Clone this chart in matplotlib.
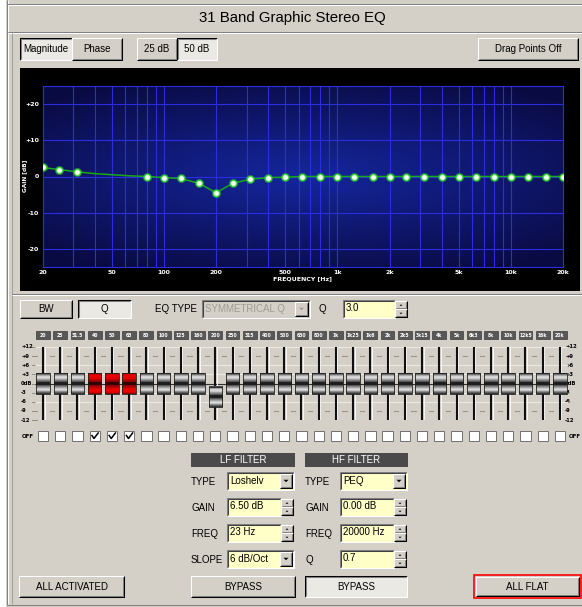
import numpy as np
import matplotlib.pyplot as plt
from matplotlib.patches import Rectangle, Polygon
from matplotlib.transforms import blended_transform_factory

plt.rcParams['font.family'] = ['Liberation Sans', 'DejaVu Sans']

W, H = 582, 607
FACE = '#d4d0c8'
YELLOW = '#ffffc8'

# ---- data ----
bands = [20, 25, 31.5, 40, 50, 63, 80, 100, 125, 160, 200, 250, 315, 400, 500,
         630, 800, 1000, 1250, 1600, 2000, 2500, 3150, 4000, 5000, 6300, 8000,
         10000, 12500, 16000, 20000]
band_labels = ['20', '25', '31.5', '40', '50', '63', '80', '100', '125', '160', '200',
               '250', '315', '400', '500', '630', '800', '1k', '1k25', '1k6', '2k',
               '2k5', '3k15', '4k', '5k', '6k3', '8k', '10k', '12k5', '16k', '20k']
# response curve (dB) at each band
curve_gain = [2.5, 1.9, 1.3, 0.8, 0.5, 0.2, 0.0, -0.3, -0.55, -1.9, -4.5, -1.9, -0.75,
              -0.3, -0.2, 0.0, 0.0, 0.0, 0.0, 0.0, 0.0, 0.0, 0.0, 0.0, 0.0, 0.0, 0.0,
              0.0, 0.0, 0.0, 0.0]
# fader positions (dB)
fader_gain = [0, 0, 0, 0, 0, 0, 0, 0, 0, 0, -4.5, 0, 0, 0, 0, 0, 0, 0, 0, 0, 0,
              0, 0, 0, 0, 0, 0, 0, 0, 0, 0]
band_off = [False, False, False, True, True, True, False, False, False, False, False,
            False, False, False, False, False, False, False, False, False, False,
            False, False, False, False, False, False, False, False, False, False]

x_ticks = [20, 50, 100, 200, 500, 1000, 2000, 5000, 10000, 20000]
x_tick_labels = ['20', '50', '100', '200', '500', '1k', '2k', '5k', '10k', '20k']
x_grid = [30, 40, 60, 70, 80, 90, 300, 400, 600, 700, 800, 900,
          3000, 4000, 6000, 7000, 8000, 9000]
y_ticks = [20, 10, 0, -10, -20]
y_tick_labels = ['+20', '+10', '0', '-10', '-20']
fader_ticks = [12, 9, 6, 3, 0, -3, -6, -9, -12]
fader_tick_labels = ['+12', '+9', '+6', '+3', '0dB', '-3', '-6', '-9', '-12']

fig = plt.figure(figsize=(W / 100, H / 100), dpi=100)
fig.patch.set_facecolor(FACE)
ax = fig.add_axes([0, 0, 1, 1])
ax.set_xlim(0, W)
ax.set_ylim(H, 0)
ax.axis('off')

LW = 0.75  # one pixel


def line(xs, ys, c, lw=LW, z=3, a=ax):
    a.plot(xs, ys, color=c, lw=lw, zorder=z, solid_capstyle='butt')


def box(x0, y0, x1, y1, style='raised', face=FACE):
    ax.add_patch(Rectangle((x0, y0), x1 - x0, y1 - y0, facecolor=face,
                           edgecolor='none', zorder=2))
    if style == 'raised':
        line([x0, x0, x1], [y1, y0, y0], 'white')
        line([x0, x1, x1], [y1, y1, y0], 'black')
        line([x0 + 1, x1 - 1, x1 - 1], [y1 - 1, y1 - 1, y0 + 1], '#808080')
    elif style == 'pressed':
        line([x0, x0, x1], [y1, y0, y0], 'black')
        line([x0 + 1, x0 + 1, x1 - 1], [y1 - 1, y0 + 1, y0 + 1], '#808080')
        line([x0, x1, x1], [y1, y1, y0], 'white')
    else:  # sunken field
        line([x0, x0, x1], [y1, y0, y0], '#808080')
        line([x0 + 1, x0 + 1, x1 - 1], [y1 - 1, y0 + 1, y0 + 1], '#404040')
        line([x0, x1, x1], [y1, y1, y0], 'white')


def label(x, y, s, size=7, ha='center', color='black', **kw):
    ax.text(x, y, s, ha=ha, va='center', fontsize=size, color=color, zorder=5, **kw)


def button(x0, y0, x1, y1, s, pressed=False, size=7):
    if pressed:
        box(x0, y0, x1, y1, 'pressed', face='#ebe9e4')
    else:
        box(x0, y0, x1, y1, 'raised')
    label((x0 + x1) / 2, (y0 + y1) / 2, s, size=size)


def arrow(cx, cy, up=False, s=3, c='black'):
    d = -s / 2 if up else s / 2
    ax.add_patch(Polygon([[cx - s / 2, cy - d / 2], [cx + s / 2, cy - d / 2],
                          [cx, cy + d / 2]], closed=True, facecolor=c,
                         edgecolor='none', zorder=5))


def combo(x0, y0, x1, y1, s, face=YELLOW):
    box(x0, y0, x1, y1, 'sunken', face=face)
    label(x0 + 3, (y0 + y1) / 2, s, size=7, ha='left')
    box(x1 - 14, y0 + 2, x1 - 2, y1 - 2, 'raised')
    arrow(x1 - 8, (y0 + y1) / 2, s=5)


def spin_edit(x0, y0, x1, y1, s):
    box(x0, y0, x1 - 13, y1, 'sunken', face=YELLOW)
    label(x0 + 3, (y0 + y1) / 2 - 1, s, size=7, ha='left')
    ym = (y0 + y1) / 2
    box(x1 - 13, y0 + 1, x1 - 1, ym, 'raised')
    box(x1 - 13, ym, x1 - 1, y1 - 1, 'raised')
    arrow(x1 - 7, (y0 + ym) / 2 + 0.5, up=True, s=3)
    arrow(x1 - 7, (ym + y1) / 2, s=3)


# ---- window frame ----
ax.add_patch(Rectangle((0, 0), 6, H, facecolor='white', edgecolor='none', zorder=1))
line([7, 7], [0, 605], '#808080')
line([8, 8], [0, 604], 'white')
line([7, W], [4, 4], '#808080')
line([8, W], [5, 5], 'white')
line([7, W], [605, 605], '#808080')
line([8, W], [32, 32], '#808080')
line([8, W], [33, 33], 'white')
line([12, 12], [33, 604], '#a0a0a0')

label(292, 18, '31 Band Graphic Stereo EQ', size=10.8)

# top toolbar
button(20, 38, 72, 60, 'Magnitude', pressed=True)
button(72, 38, 122, 60, 'Phase')
button(137, 38, 177, 60, '25 dB')
button(177, 38, 217, 60, '50 dB', pressed=True)
button(478, 38, 578, 60, 'Drag Points Off')

# ---- graph ----
ax.add_patch(Rectangle((20, 68), 560, 223, facecolor='black', edgecolor='none', zorder=1))
line([12, W], [294, 294], '#808080')
line([12, W], [295, 295], 'white')

pl, pr, pt, pb = 42.5, 563, 86, 267
pax = fig.add_axes([pl / W, 1 - pb / H, (pr - pl) / W, (pb - pt) / H])
pax.set_xscale('log')
yy, xx = np.mgrid[-1:1:120j, -1:1:240j]
r = np.clip(np.sqrt((xx * 0.9) ** 2 + (yy * 1.1) ** 2) / 1.3, 0, 1)[..., None]
c_mid = np.array([0.08, 0.15, 0.62])
c_edge = np.array([0.04, 0.04, 0.26])
pax.imshow(c_mid * (1 - r) + c_edge * r, extent=(0, 1, 0, 1), aspect='auto',
           transform=pax.transAxes, zorder=0)
pax.set_xlim(20, 20000)
pax.set_ylim(-25, 25)
GRID = '#2c2ce0'
for f in x_grid + x_ticks:
    pax.axvline(f, color=GRID, lw=0.8, zorder=1)
for g in y_ticks:
    pax.axhline(g, color=GRID, lw=0.8, zorder=1)
for sp in pax.spines.values():
    sp.set_color(GRID)
    sp.set_linewidth(0.8)
pax.set_xticks(x_ticks)
pax.set_xticklabels(x_tick_labels)
pax.set_xticks([], minor=True)
pax.set_yticks(y_ticks)
pax.set_yticklabels(y_tick_labels)
pax.tick_params(length=0, colors='white', labelsize=4.5, pad=2.5)
for t in pax.get_xticklabels() + pax.get_yticklabels():
    t.set_family('DejaVu Sans')
    t.set_weight('bold')
pax.set_xlabel('FREQUENCY [Hz]', color='white', fontsize=4.5, labelpad=0.5,
               family='DejaVu Sans', weight='bold')
ax.text(25, 176, 'GAIN [dB]', rotation=90, color='white', fontsize=4.2,
        family='DejaVu Sans', weight='bold', ha='center', va='center', zorder=5)

pax.plot(bands, curve_gain, color='#18a818', lw=1.1, zorder=3)
on_f = [f for f, off in zip(bands, band_off) if not off]
on_g = [g for g, off in zip(curve_gain, band_off) if not off]
pax.plot(on_f, on_g, 'o', ms=6.5, mfc='#30c030', mec='none', alpha=0.6, zorder=4)
pax.plot(on_f, on_g, 'o', ms=4.3, mfc='white', mec='#40e040', mew=0.8, zorder=5)

# ---- controls row ----
button(20, 300, 72, 318, 'BW')
button(78, 300, 131, 318, 'Q', pressed=True)
label(155, 309, 'EQ TYPE', ha='left')
box(202, 300, 310, 318, 'sunken', face=FACE)
label(205, 309, 'SYMMETRICAL Q', ha='left', color='#a09c94')
box(295, 302, 308, 316, 'raised')
arrow(301.5, 309, s=5, c='#a09c94')
label(322, 309, 'Q')
spin_edit(343, 300, 408, 318, '3.0')

# ---- faders ----
n = len(bands)
step = 17.23
fx0 = 43 - step
fax = fig.add_axes([fx0 / W, 1 - 420.1 / H, step * (n + 1) / W, 73.2 / H])
fax.axis('off')
idx = np.arange(n)
bt = blended_transform_factory(fax.transData, ax.transData)   # x band, y pixel
st = blended_transform_factory(ax.transData, fax.transData)   # x pixel, y dB

for lv in [12, 6, 3, -3, -6, -12]:
    fax.hlines(lv, -0.45, n - 0.55, color='#ebe9e4', lw=0.8, zorder=1)
for lv in [9, -9]:
    for i in idx[:-1]:
        fax.plot([i + 0.38, i + 0.62], [lv, lv], color='#9a968e', lw=0.8, zorder=1)
fax.hlines(0, -0.45, n - 0.55, color='#303030', lw=0.8, zorder=2)
fax.vlines(idx + 0.09, -12, 12, color='white', lw=0.6, zorder=2)
fax.vlines(idx, -12, 12, color='#101010', lw=1.5, zorder=3)

gray_rows = np.array([0.28, 0.45, 0.66, 0.82, 0.86, 0.78, 0.62, 0.48, 0.35, 0.12,
                      0.12, 0.35, 0.5, 0.64, 0.78, 0.86, 0.76, 0.55, 0.38, 0.22])
red_rows = np.array([0.55, 0.8, 0.9, 0.92, 0.9, 0.85, 0.75, 0.65, 0.55, 0.2,
                     0.2, 0.55, 0.65, 0.75, 0.85, 0.9, 0.92, 0.9, 0.8, 0.55])
for i, g in enumerate(fader_gain):
    if band_off[i]:
        img = np.stack([red_rows, red_rows * 0.0, red_rows * 0.0], axis=1)[:, None, :]
    else:
        img = np.stack([gray_rows] * 3, axis=1)[:, None, :]
    fax.imshow(img, extent=(i - 0.39, i + 0.39, g - 3.3, g + 3.3), aspect='auto',
               zorder=4, interpolation='nearest')
    fax.add_patch(Rectangle((i - 0.39, g - 3.3), 0.78, 6.6, facecolor='none',
                            edgecolor='#202020', lw=0.6, zorder=5))
fax.set_xlim(-1, n)
fax.set_ylim(-12, 12)

for lv, s in zip(fader_ticks, fader_tick_labels):
    ax.text(21, lv, s, transform=st, fontsize=3.8, family='DejaVu Sans', weight='bold',
            ha='left', va='center', zorder=5)
    ax.text(565, lv, s, transform=st, fontsize=3.8, family='DejaVu Sans', weight='bold',
            ha='left', va='center', zorder=5)
    ax.plot([32, 37], [lv, lv], transform=st, color='#808080', lw=0.6, zorder=3)

# band label chips
for i, s in enumerate(band_labels):
    ax.add_patch(Rectangle((i - 0.4, 331), 0.8, 8, transform=bt, facecolor='#585858',
                           edgecolor='#3a3a3a', lw=0.5, zorder=4))
    ax.text(i, 335.2, s, transform=bt, fontsize=3.3, color='white', ha='center',
            va='center', family='DejaVu Sans', weight='bold', zorder=5)

# OFF checkboxes
for i, off in enumerate(band_off):
    ax.add_patch(Rectangle((i - 0.3, 431), 0.6, 10, transform=bt, facecolor='white',
                           edgecolor='#707070', lw=0.7, zorder=4))
    if off:
        ax.plot([i - 0.16, i - 0.04, i + 0.2], [435.5, 438.5, 433], transform=bt,
                color='black', lw=1.1, zorder=5)
label(28, 436, 'OFF', size=4, family='DejaVu Sans', weight='bold')
label(575, 436, 'OFF', size=4, family='DejaVu Sans', weight='bold')

# ---- LF / HF filters ----
for x0, x1, s in [(191, 295, 'LF FILTER'), (305, 408, 'HF FILTER')]:
    ax.add_patch(Rectangle((x0, 453), x1 - x0, 14, facecolor='#4a4a4a',
                           edgecolor='none', zorder=2))
    label((x0 + x1) / 2, 460, s, size=7, color='white')

label(191, 482, 'TYPE', ha='left')
label(191, 508, 'GAIN', ha='left')
label(191, 534, 'FREQ', ha='left')
label(191, 560, 'SLOPE', ha='left')
combo(227, 472, 294, 490, 'Loshelv')
spin_edit(227, 498, 294, 516, '6.50 dB')
spin_edit(227, 524, 294, 542, '23 Hz')
combo(227, 550, 294, 568, '6 dB/Oct')

label(305, 482, 'TYPE', ha='left')
label(305, 508, 'GAIN', ha='left')
label(305, 534, 'FREQ', ha='left')
label(305, 560, 'Q', ha='left')
combo(340, 472, 407, 490, 'PEQ')
spin_edit(340, 498, 407, 516, '0.00 dB')
spin_edit(340, 524, 407, 542, '20000 Hz')
spin_edit(340, 550, 407, 568, '0.7')

button(19, 576, 124, 597, 'ALL ACTIVATED')
button(191, 576, 295, 597, 'BYPASS')
button(305, 576, 407, 597, 'BYPASS', pressed=True)
button(476, 577, 579, 596, 'ALL FLAT')
ax.add_patch(Rectangle((474, 575), 107, 23, facecolor='none', edgecolor='#ff0000',
                       lw=1.2, zorder=6))

fig.savefig('out.png', dpi=100, facecolor=FACE)
